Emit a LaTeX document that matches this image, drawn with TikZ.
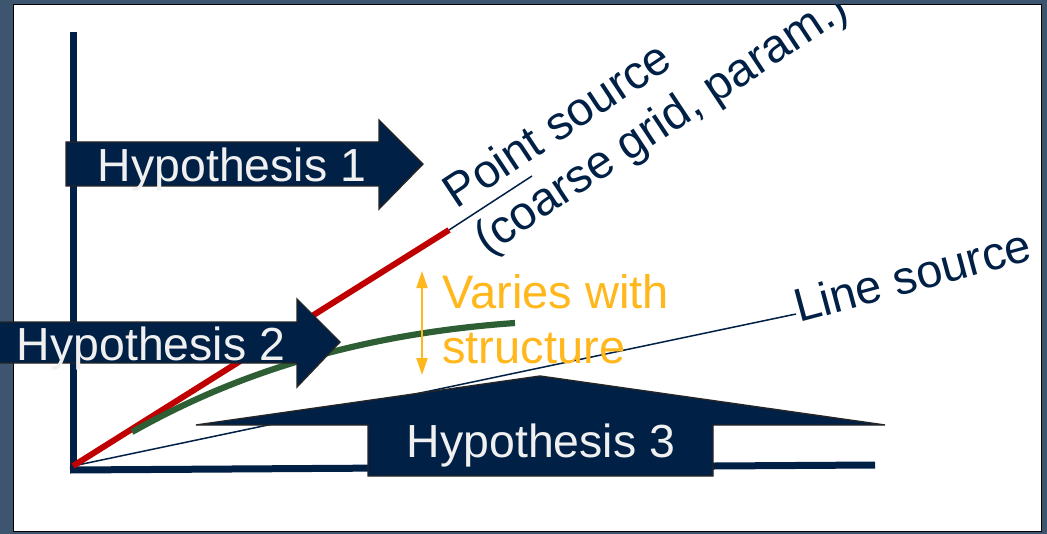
\documentclass[tikz,border=0pt]{standalone}
\usepackage{fontspec}
\setmainfont{Liberation Sans}
\usetikzlibrary{arrows.meta}
\definecolor{navy}{RGB}{0,32,70}
\definecolor{slate}{RGB}{62,85,112}
\definecolor{hred}{RGB}{192,0,0}
\definecolor{hgreen}{RGB}{45,94,52}
\definecolor{amber}{RGB}{255,183,28}
\newcommand{\lblfont}{\fontsize{23.5}{27.5}\selectfont}
\newcommand{\hypfont}{\fontsize{23.2}{27}\selectfont}

\begin{document}
\begin{tikzpicture}[x=0.5pt,y=-0.5pt,
  hyp/.style={fill=navy, draw=black!85, line width=0.7pt},
  hyptxt/.style={anchor=base, text=white!94!black, font=\hypfont, inner sep=0pt},
  lbl/.style={text=navy, font=\lblfont, inner sep=0pt, align=left}]
\useasboundingbox (0,0) rectangle (1047,534);
\fill[slate] (0,0) rectangle (1047,534);
\draw[fill=white, line width=0.8pt] (13.5,4.5) rectangle (1041.5,531.5);
\begin{scope}
\clip (14,5) rectangle (1041,531);
% axes
\draw[navy, line width=3.5pt] (73.5,32) -- (73.5,470);
\draw[navy, line width=3.5pt] (70,470) -- (875,465);
\coordinate (O) at (73,466);
\coordinate (R) at (449,230);
\coordinate (Rt) at (532,176);
\coordinate (Ls) at (796,314);
\coordinate (Vt) at (422,271);
\coordinate (Vb) at (422,375);
% sources
\draw[navy, line width=0.75pt] (O) -- (Ls);
\draw[navy, line width=0.75pt] (R) -- (Rt);
\draw[hred, line width=3pt] (O) -- (R);
\draw[hgreen, line width=3.1pt] (132,432) .. controls (210,388) and (330,336) .. (515,323);
% base anchor sits on the last line
\node[lbl, rotate=33.5, anchor=base west] (P) at (487,256) {Point source\\(coarse grid, param.)};
\node[lbl, rotate=15, anchor=base west] (L) at (799,323) {Line source};
% structure
\draw[amber, line width=1pt, {Triangle[width=5.5pt,length=8.5pt]}-{Triangle[width=5.5pt,length=8.5pt]}] (Vt) -- (Vb);
\node[lbl, text=amber, anchor=base west] (V) at (442,363) {Varies with\\structure};
% hypotheses
\draw[hyp] (66,142) -- (379,142) -- (379,120) -- (423,164) -- (379,209) -- (379,186) -- (66,186) -- cycle;
\node[hyptxt] (H1) at (232,182) {Hypothesis 1};
\draw[hyp] (368,476) -- (368,425) -- (196,425) -- (540,376) -- (885,425) -- (713,425) -- (713,476) -- cycle;
\node[hyptxt] (H3) at (541,457) {Hypothesis 3};
\end{scope}
\draw[hyp] (-2,322) -- (297,322) -- (297,299) -- (340,342) -- (297,387) -- (297,363) -- (-2,363) -- cycle;
\node[hyptxt] (H2) at (151,360) {Hypothesis 2};
\end{tikzpicture}
\end{document}
